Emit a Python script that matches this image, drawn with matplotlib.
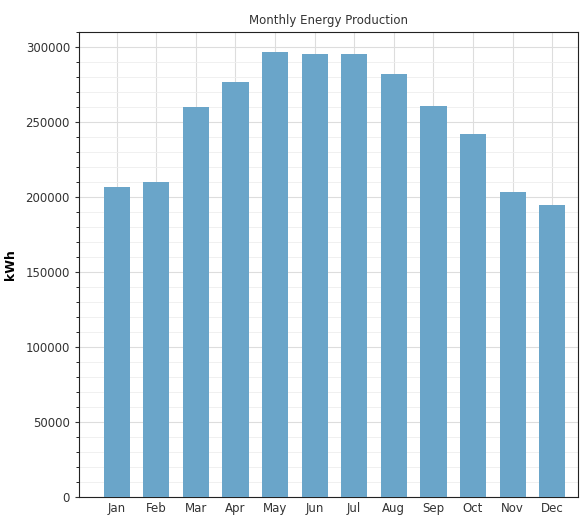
import numpy as np
import matplotlib.pyplot as plt
from matplotlib.ticker import MultipleLocator

months = ['Jan', 'Feb', 'Mar', 'Apr', 'May', 'Jun', 'Jul', 'Aug', 'Sep', 'Oct', 'Nov', 'Dec']
energy = [206500, 209800, 259900, 276600, 296700, 295300, 295300, 282000, 260600, 241900, 203100, 194400]

fig = plt.figure(figsize=(5.82, 5.21), dpi=100)
ax = fig.add_axes([79/582, 24/521, 499/582, 465/521])

x = np.arange(len(months))
ax.bar(x, energy, width=0.66, color='#6aa5c9', zorder=3)

ax.set_xlim(-0.95, 11.65)
ax.set_ylim(0, 310000)
ax.set_xticks(x)
ax.set_xticklabels(months)
ax.yaxis.set_major_locator(MultipleLocator(50000))
ax.yaxis.set_minor_locator(MultipleLocator(10000))
ax.grid(True, which='major', color='#dddddd', lw=0.8, zorder=0)
ax.grid(True, which='minor', axis='y', color='#eeeeee', lw=0.6, zorder=0)
ax.tick_params(labelsize=8.5, colors='#333333', length=3)
ax.tick_params(which='minor', length=2)
ax.tick_params(axis='x', length=0)
for s in ax.spines.values():
    s.set_color('#222222')
ax.set_ylabel('kWh', fontsize=9, fontweight='bold', labelpad=6)
ax.set_title('Monthly Energy Production', fontsize=8.5, color='#333333', pad=6)

plt.savefig('out.png')
